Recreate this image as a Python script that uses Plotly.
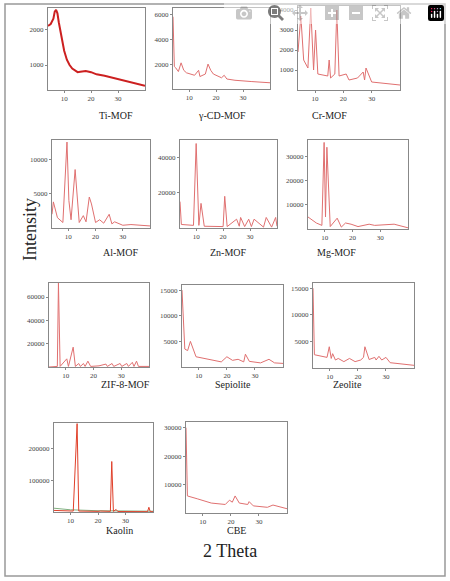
import plotly.graph_objects as go

W, H = 450, 581
names = ["Ti-MOF", "γ-CD-MOF", "Cr-MOF", "Al-MOF", "Zn-MOF", "Mg-MOF",
         "ZIF-8-MOF", "Sepiolite", "Zeolite", "Kaolin", "CBE"]

ti_x = [4, 5, 6, 6.5, 7, 7.5, 8, 9, 10, 11, 12, 13, 14, 15, 16, 18, 20, 22, 25, 28, 31, 33, 36, 38, 40]
ti_y = [2100, 2150, 2300, 2500, 2550, 2450, 2200, 1800, 1400, 1150, 1000, 900, 850, 800, 810, 830, 800, 740, 700, 640, 590, 550, 480, 440, 420]
cd_x = [4, 4.5, 5, 6, 7, 8, 9, 12, 13.5, 14, 16, 17, 18, 19, 22, 23, 24, 27, 33, 40]
cd_y = [5800, 1800, 1700, 1400, 2100, 1500, 1300, 1100, 1500, 1000, 1200, 2000, 1500, 1200, 900, 1100, 800, 700, 600, 500]
cr_x = [4, 5, 6, 7.5, 8.5, 9.5, 10.2, 11, 14.5, 15, 15.5, 17, 17.7, 18.5, 21, 22, 25, 27, 27.5, 28, 30, 33, 40]
cr_y = [1900, 3700, 1500, 1100, 4100, 1000, 3000, 800, 700, 1500, 600, 800, 4000, 700, 800, 500, 600, 900, 500, 1100, 400, 350, 250]
al_x = [4, 4.5, 6, 8, 9.5, 10.2, 11, 12.5, 14, 15.5, 16.5, 17.7, 18.5, 20, 21.5, 23, 25, 26, 27, 30, 33, 40]
al_y = [2000, 3800, 1500, 800, 12500, 4000, 1200, 8500, 800, 1800, 900, 4500, 3500, 800, 1200, 700, 2000, 600, 900, 400, 500, 300]
zn_x = [4, 4.5, 9, 10, 11, 11.8, 13, 20, 20.6, 21.5, 25, 26, 26.5, 28, 29.5, 30.5, 31.5, 35, 36, 38, 39.5, 40]
zn_y = [15000, 2000, 1500, 48000, 1500, 14000, 1000, 800, 18000, 800, 5000, 1000, 6000, 800, 5000, 800, 5000, 500, 6000, 500, 6000, 1000]
mg_x = [4, 7, 9, 9.8, 10.3, 10.8, 12, 14.5, 16, 17.5, 19.5, 22, 26, 28, 35, 40]
mg_y = [5000, 2500, 1500, 36000, 5000, 34000, 1000, 4500, 800, 2500, 2000, 1000, 2000, 1500, 2000, 500]
zif_x = [4, 7, 7.4, 8, 10.4, 11, 12.7, 13.5, 14.7, 15.3, 16.4, 17, 18, 19, 22, 24.5, 25, 26.7, 27.3, 29.6, 30.2, 32, 32.6, 34, 34.6, 35.5, 36.2, 40]
zif_y = [0, 500, 72000, 500, 7000, 500, 17000, 500, 3000, 500, 3000, 500, 5000, 500, 1000, 2500, 500, 3000, 500, 3000, 500, 3000, 500, 4000, 500, 5000, 500, 500]
sep_x = [4, 5, 6, 7, 9, 13, 18, 20, 22, 24, 26, 26.6, 28, 32, 35, 37, 40]
sep_y = [15000, 3500, 3200, 5000, 2000, 1500, 1000, 2000, 1300, 1500, 1000, 2500, 1100, 800, 1500, 800, 700]
zeo_x = [4, 4.5, 9, 9.8, 10.5, 11, 12, 13, 15, 17, 19, 21, 22, 22.5, 24, 26, 26.5, 27.5, 28.5, 30, 31.5, 35, 40]
zeo_y = [15000, 2500, 2000, 4000, 1800, 2700, 1500, 1800, 1200, 1800, 1200, 1500, 2000, 4000, 1600, 2000, 1500, 2200, 1500, 2000, 1000, 800, 500]
kao_x = [4, 11, 12.4, 13, 20, 21, 24.5, 25, 25.6, 26.6, 27.2, 30, 38, 38.5, 39, 40]
kao_y = [5000, 3000, 280000, 3000, 2000, 3000, 2000, 160000, 2000, 8000, 1500, 1000, 1000, 15000, 1000, 1000]
kao_g_x = [4, 10, 20, 30, 40]
kao_g_y = [12000, 7000, 4000, 3000, 2500]
cbe_x = [4, 4.5, 8, 13, 18, 19.5, 20.5, 21.5, 23, 26, 26.5, 28, 33, 35, 40]
cbe_y = [30000, 6000, 5000, 3500, 3000, 4500, 3800, 6000, 3500, 3000, 4000, 2500, 2000, 2800, 1500]

series = [(ti_x, ti_y), (cd_x, cd_y), (cr_x, cr_y), (al_x, al_y), (zn_x, zn_y), (mg_x, mg_y),
          (zif_x, zif_y), (sep_x, sep_y), (zeo_x, zeo_y), (kao_x, kao_y), (cbe_x, cbe_y)]
yranges = [[300, 2600], [0, 6500], [0, 4200], [0, 12800], [0, 50000], [0, 37000],
           [0, 72000], [0, 16000], [0, 16000], [0, 282000], [0, 32000]]
yticks = [[1000, 2000], [2000, 4000, 6000], [1000, 2000, 3000, 4000], [5000, 10000],
          [20000, 40000], [10000, 20000, 30000], [20000, 40000, 60000],
          [5000, 10000, 15000], [5000, 10000, 15000], [100000, 200000], [10000, 20000, 30000]]
boxes = [(48, 145, 8, 90, 108), (173, 270, 8, 89, 108), (298, 400, 6, 90, 108),
         (52, 150, 140, 228, 253), (180, 277, 140, 228, 253), (308, 408, 140, 229, 253),
         (49, 149, 283, 367, 392), (182, 283, 285, 367, 392), (313, 414, 283, 368, 392),
         (54, 153, 423, 512, 538), (186, 287, 422, 513, 538)]

SERIF = "Liberation Serif, Times New Roman, serif"
fig = go.Figure()
layout = {}
ann = []
for i, ((xs, ys), yr, yt, b) in enumerate(zip(series, yranges, yticks, boxes)):
    k = "" if i == 0 else str(i + 1)
    x0, x1, y0, y1, ly = b
    col = "#cc2020" if i == 0 else ("#e0402a" if i == 9 else "#e07070")
    wid = 2 if i == 0 else 1
    if i == 9:
        fig.add_trace(go.Scatter(x=kao_g_x, y=kao_g_y, mode="lines", line=dict(color="#80b080", width=1),
                                 xaxis="x" + k, yaxis="y" + k, showlegend=False))
    fig.add_trace(go.Scatter(x=xs, y=ys, mode="lines", line=dict(color=col, width=wid),
                             xaxis="x" + k, yaxis="y" + k, showlegend=False))
    common = dict(showline=True, mirror=True, linecolor="#888", linewidth=1, showgrid=False,
                  zeroline=False, ticks="outside", ticklen=2, tickcolor="#888",
                  tickfont=dict(family=SERIF, size=7, color="#444"))
    layout["xaxis" + k] = dict(common, domain=[x0 / W, x1 / W], range=[4, 40],
                               tickvals=[10, 20, 30], anchor="y" + k)
    layout["yaxis" + k] = dict(common, domain=[1 - y1 / H, 1 - y0 / H], range=yr,
                               tickvals=yt, tickformat="d", anchor="x" + k)
    ann.append(dict(text=names[i], x=(x0 + x1) / 2 / W, y=1 - ly / H, xref="paper", yref="paper",
                    showarrow=False, font=dict(family=SERIF, size=10, color="#222")))
ann.append(dict(text="Intensity", x=18 / W, y=1 - 230 / H, xref="paper", yref="paper", textangle=-90,
                showarrow=False, font=dict(family=SERIF, size=18, color="#222")))
ann.append(dict(text="2 Theta", x=230 / W, y=1 - 563 / H, xref="paper", yref="paper",
                showarrow=False, font=dict(family=SERIF, size=18, color="#222")))
fig.update_layout(**layout, annotations=ann, width=W, height=H, margin=dict(l=0, r=0, t=0, b=0),
                  paper_bgcolor="white", plot_bgcolor="white",
                  shapes=[dict(type="rect", xref="paper", yref="paper", x0=5 / W, x1=445 / W,
                               y0=1 - 576 / H, y1=1 - 4 / H, line=dict(color="#999", width=1.5))])
fig.write_html("out.html")
with open("out.html", encoding="utf-8") as f:
    html = f.read()
html = html.replace("<head>", "<head><style>html,body{margin:0;padding:0;overflow:hidden}</style>", 1)
with open("out.html", "w", encoding="utf-8") as f:
    f.write(html)
